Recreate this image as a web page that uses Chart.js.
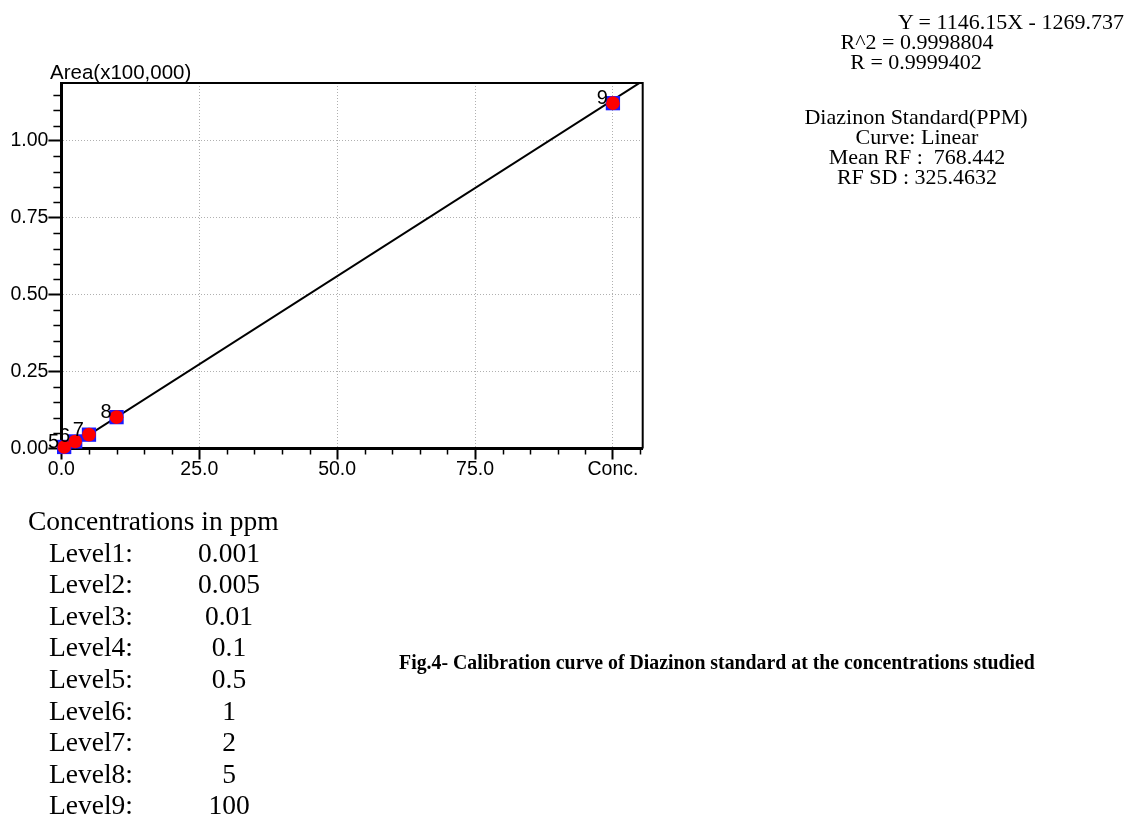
<!DOCTYPE html>
<html>
<head>
<meta charset="utf-8">
<script src="https://cdn.jsdelivr.net/npm/chart.js@4.4.0/dist/chart.umd.min.js"></script>
<style>
  html, body { margin: 0; padding: 0; background: #fff; }
  #wrap { position: relative; width: 1131px; height: 819px; overflow: hidden; background: #fff; }
  #c { position: absolute; left: 0; top: 0; }
  .t { position: absolute; white-space: pre; color: #000; }
  .serif { font-family: "Liberation Serif", "DejaVu Serif", serif; }
  .sans { font-family: "Liberation Sans", Arial, sans-serif; }
  .ctr { text-align: center; width: 400px; }
  #caption { left: 317px; top: 651px; width: 800px; text-align: center; font-size: 22px; line-height: 22px;
             font-weight: bold; transform: scaleX(0.9); transform-origin: 400px 50%; }
</style>
</head>
<body>
<div id="wrap">
  <canvas id="c" width="1131" height="819"></canvas>

  <div class="t sans" style="left:50px; top:62px; font-size:20.5px; line-height:20px;">Area(x100,000)</div>

  <div id="caption" class="t serif">Fig.4- Calibration curve of Diazinon standard at the concentrations studied</div>
</div>

<script>
// Calibration points (concentration, peak area in units of 100,000)
const pointLabels = ['5', '6', '7', '8', '9'];
const concX = [0.5, 2.5, 5, 10, 100];
const areaY = [0.005, 0.023, 0.045, 0.102, 1.123];

// Linear fit: Area = slope * Conc + intercept
const slope = 1146.15;
const intercept = -1269.737;
const rSquared = '0.9998804';
const rValue = '0.9999402';
const fitRangeX = [0, 105.4];

// Axis tick labels
const xTickLabels = ['0.0', '25.0', '50.0', '75.0', 'Conc.'];
const yTickLabels = ['0.00', '0.25', '0.50', '0.75', '1.00'];

// Curve summary
const compoundName = 'Diazinon Standard(PPM)';
const curveType = 'Linear';
const meanRF = '768.442';
const rfSD = '325.4632';

// Level concentrations
const levelNames = ['Level1:', 'Level2:', 'Level3:', 'Level4:', 'Level5:', 'Level6:', 'Level7:', 'Level8:', 'Level9:'];
const levelConc = ['0.001', '0.005', '0.01', '0.1', '0.5', '1', '2', '5', '100'];

// ---- text blocks ----
const wrap = document.getElementById('wrap');
function addLine(text, cx, cy, size) {
  const d = document.createElement('div');
  d.className = 't serif ctr';
  d.style.left = (cx - 200) + 'px';
  d.style.top = (cy - 10.5) + 'px';
  d.style.fontSize = size + 'px';
  d.style.lineHeight = '20px';
  d.textContent = text;
  wrap.appendChild(d);
}
addLine('Y = ' + slope + 'X - ' + Math.abs(intercept), 1011, 22, 22);
addLine('R^2 = ' + rSquared, 917, 42, 22);
addLine('R = ' + rValue, 916, 62, 22);
addLine(compoundName, 916, 117, 22);
addLine('Curve: ' + curveType, 917, 137, 22);
addLine('Mean RF :  ' + meanRF, 917, 157, 22);
addLine('RF SD : ' + rfSD, 917, 177, 22);

(function () {
  const lh = 31.6, size = 27.5, top0 = 505;
  const head = document.createElement('div');
  head.className = 't serif';
  head.style.cssText = 'left:28px; top:' + top0 + 'px; font-size:' + size + 'px; line-height:' + lh + 'px;';
  head.textContent = 'Concentrations in ppm';
  wrap.appendChild(head);
  levelNames.forEach((name, i) => {
    const y = top0 + lh * (i + 1);
    const a = document.createElement('div');
    a.className = 't serif';
    a.style.cssText = 'left:49px; top:' + y + 'px; font-size:' + size + 'px; line-height:' + lh + 'px;';
    a.textContent = name;
    wrap.appendChild(a);
    const b = document.createElement('div');
    b.className = 't serif';
    b.style.cssText = 'left:179px; width:100px; text-align:center; top:' + y + 'px; font-size:' + size + 'px; line-height:' + lh + 'px;';
    b.textContent = levelConc[i];
    wrap.appendChild(b);
  });
})();

// ---- chart ----
const fitLine = fitRangeX.map(x => ({ x: x, y: (slope * x + intercept) / 100000 }));
const points = concX.map((x, i) => ({ x: x, y: areaY[i] }));

const AREA_LEFT = 61.4, AREA_RIGHT = 642.7, AREA_TOP = 83, AREA_BOTTOM = 448.5;
const X_AXIS_H = 40;

const frameAndMinorTicks = {
  id: 'frameAndMinorTicks',
  afterDraw(chart) {
    const { ctx, chartArea: a, scales } = chart;
    const xs = scales.x, ys = scales.y;
    ctx.save();
    ctx.strokeStyle = '#000';
    // top and right frame
    ctx.lineWidth = 2;
    ctx.beginPath();
    ctx.moveTo(a.left, a.top);
    ctx.lineTo(a.right, a.top);
    ctx.lineTo(a.right, a.bottom);
    ctx.stroke();
    // minor ticks
    ctx.lineWidth = 1.5;
    ctx.beginPath();
    for (let v = 5; v <= xs.max; v += 5) {
      if (v % 25 === 0) continue;
      const px = Math.round(xs.getPixelForValue(v)) + 0.5;
      ctx.moveTo(px, a.bottom);
      ctx.lineTo(px, a.bottom + 6);
    }
    for (let k = 1; k * 0.05 <= ys.max; k++) {
      if (k % 5 === 0) continue;
      const py = Math.round(ys.getPixelForValue(k * 0.05)) + 0.5;
      ctx.moveTo(a.left, py);
      ctx.lineTo(a.left - 8, py);
    }
    ctx.stroke();
    ctx.restore();
  }
};

const pointNumbers = {
  id: 'pointNumbers',
  afterDatasetsDraw(chart) {
    const meta = chart.getDatasetMeta(2);
    const ctx = chart.ctx;
    ctx.save();
    ctx.font = '20px "Liberation Sans", Arial, sans-serif';
    ctx.fillStyle = '#000';
    ctx.textAlign = 'right';
    ctx.textBaseline = 'alphabetic';
    meta.data.forEach((el, i) => {
      ctx.fillText(pointLabels[i], el.x - 5, el.y + 1);
    });
    ctx.restore();
  }
};

new Chart(document.getElementById('c'), {
  type: 'scatter',
  data: {
    datasets: [
      {
        type: 'line',
        data: fitLine,
        borderColor: '#000',
        borderWidth: 2,
        pointRadius: 0,
        fill: false,
        order: 3
      },
      {
        data: points,
        pointStyle: 'rect',
        pointRadius: 10.1,
        backgroundColor: '#1a1aff',
        borderWidth: 0,
        clip: false,
        order: 2
      },
      {
        data: points,
        pointStyle: 'circle',
        pointRadius: 6.8,
        backgroundColor: '#ff0000',
        borderWidth: 0,
        clip: false,
        order: 1
      }
    ]
  },
  options: {
    responsive: false,
    animation: false,
    devicePixelRatio: 1,
    layout: {
      padding: { left: 0, top: AREA_TOP, right: 1131 - AREA_RIGHT, bottom: 819 - AREA_BOTTOM - X_AXIS_H }
    },
    plugins: {
      legend: { display: false },
      tooltip: { enabled: false },
      title: { display: false }
    },
    scales: {
      x: {
        type: 'linear',
        min: 0,
        max: 105.4,
        afterFit(s) { s.height = X_AXIS_H; },
        ticks: {
          stepSize: 25,
          includeBounds: false,
          maxRotation: 0,
          autoSkip: false,
          padding: -2,
          color: '#000',
          font: { family: '"Liberation Sans", Arial, sans-serif', size: 19.5 },
          callback: (v, i) => xTickLabels[i]
        },
        grid: {
          color: '#b0b0b0',
          lineWidth: 1,
          drawTicks: true,
          tickLength: 11,
          tickColor: '#000',
          tickWidth: 2,
          tickBorderDash: []
        },
        border: { display: true, color: '#000', width: 3, dash: [1, 2] }
      },
      y: {
        type: 'linear',
        min: 0,
        max: 1.1886,
        afterFit(s) { s.width = AREA_LEFT; },
        ticks: {
          stepSize: 0.25,
          includeBounds: false,
          autoSkip: false,
          padding: 0,
          color: '#000',
          font: { family: '"Liberation Sans", Arial, sans-serif', size: 19.5 },
          callback: (v, i) => yTickLabels[i]
        },
        grid: {
          color: '#b0b0b0',
          lineWidth: 1,
          drawTicks: true,
          tickLength: 13,
          tickColor: '#000',
          tickWidth: 2,
          tickBorderDash: []
        },
        border: { display: true, color: '#000', width: 3, dash: [1, 2] }
      }
    }
  },
  plugins: [frameAndMinorTicks, pointNumbers]
});
</script>
</body>
</html>
